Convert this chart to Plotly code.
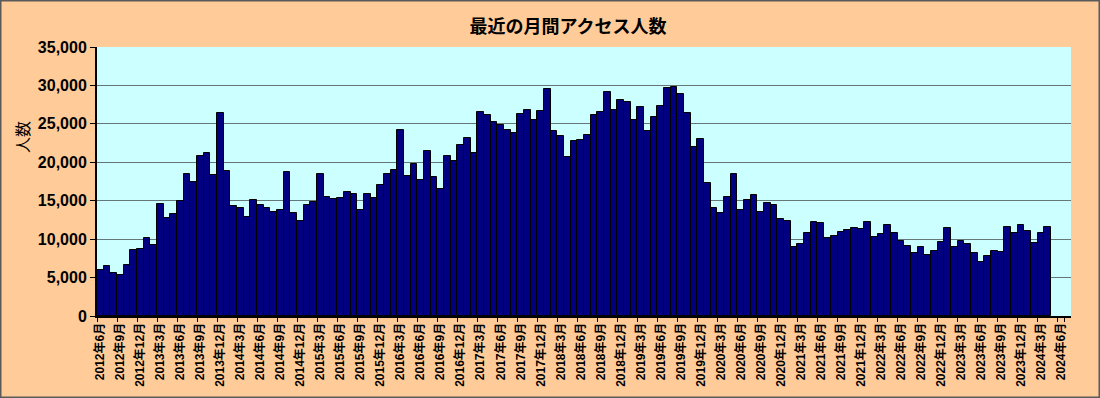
import plotly.graph_objects as go

# ---- data ----
start_year, start_month = 2012, 6
n_categories = 146  # 2012年6月 .. 2024年7月
months = []
y, m = start_year, start_month
for _ in range(n_categories):
    months.append(f"{y}年{m}月")
    m += 1
    if m > 12:
        m = 1
        y += 1

visitors = [
    5950, 6470, 5600, 5390, 6650, 8600, 8730, 10210, 9210, 14510,
    12770, 13210, 14940, 18420, 17380, 20810, 21160, 18330, 26460, 18900,
    14250, 13990, 12900, 15030, 14470, 13990, 13550, 13730, 18770, 13380,
    12380, 14420, 14770, 18420, 15510, 15250, 15290, 16120, 15860, 13810,
    15860, 15290, 17070, 18510, 19030, 24240, 18250, 19770, 17680, 21500,
    18030, 16550, 20760, 20160, 22290, 23150, 21160, 26540, 26150, 25200,
    24850, 24240, 23760, 26240, 26850, 25500, 26720, 29580, 24070, 23410,
    20720, 22720, 22940, 23590, 26200, 26540, 29150, 26850, 28110, 27800,
    25540, 27150, 24070, 25890, 27320, 29670, 29760, 28930, 26370, 22020,
    23020, 17250, 14030, 13380, 15510, 18420, 13810, 15070, 15770, 13550,
    14640, 14470, 12680, 12420, 8990, 9430, 10860, 12210, 12080, 10210,
    10430, 10900, 11160, 11470, 11290, 12250, 10340, 10640, 11900, 10820,
    9770, 9120, 8250, 9040, 7910, 8470, 9600, 11510, 8990, 9770,
    9430, 8250, 7040, 7820, 8430, 8340, 11600, 10770, 11900, 11080,
    9560, 10770, 11600,
]
values = visitors + [None] * (n_categories - len(visitors))
tick_labels = months[::3]

title_text = "最近の月間アクセス人数"
y_title = "人数"

# ---- layout geometry ----
W, H = 1100, 398
L, R, T, B = 97, 29, 47, 82
pw, ph = W - L - R, H - T - B

def px_x(px):
    return (px - L) / pw

def px_y(py):
    return (H - B - py) / ph

fig = go.Figure()
fig.add_trace(go.Bar(
    x=months, y=values,
    marker=dict(color="#000080", line=dict(color="#000000", width=1)),
    hoverinfo="x+y",
))

fig.update_layout(
    width=W, height=H,
    margin=dict(l=L, r=R, t=T, b=B, pad=0),
    paper_bgcolor="#FFCC99",
    plot_bgcolor="#CCFFFF",
    bargap=0,
    showlegend=False,
    font=dict(family="Liberation Sans, Arial, Noto Sans CJK JP", color="#000000"),
    title=dict(
        text=title_text,
        xref="container", yref="container",
        x=568 / W, y=1 - 27 / H,
        xanchor="center", yanchor="middle",
        font=dict(family="Noto Sans CJK JP", size=18, weight="bold", color="#000000"),
    ),
)

fig.update_xaxes(
    type="category",
    categoryorder="array", categoryarray=months,
    range=[-0.5, n_categories - 0.5],
    tickmode="array", tickvals=tick_labels, ticktext=tick_labels,
    tickson="boundaries",
    ticks="outside", ticklen=4, tickwidth=1, tickcolor="#000000",
    tickangle=-90,
    tickfont=dict(family="Liberation Sans, Noto Sans CJK JP", size=12, weight="bold"),
    showline=True, linecolor="#000000", linewidth=2,
    showgrid=False, zeroline=False,
    fixedrange=True,
)

fig.update_yaxes(
    range=[0, 35000], dtick=5000, tick0=0,
    tickformat=",d",
    ticks="outside", ticklen=5, tickwidth=1, tickcolor="#000000",
    tickfont=dict(family="Liberation Sans", size=16, weight="bold"),
    showline=True, linecolor="#000000", linewidth=2,
    showgrid=True, gridcolor="#667777", gridwidth=1,
    zeroline=False,
    fixedrange=True,
)

fig.add_annotation(
    text=y_title, textangle=-90,
    xref="paper", yref="paper",
    x=px_x(21.5), y=px_y(137.5),
    xanchor="center", yanchor="middle",
    showarrow=False,
    font=dict(family="Noto Sans CJK JP", size=16, color="#000000"),
)

# outer frame of the chart
fig.add_shape(
    type="rect", xref="paper", yref="paper",
    x0=px_x(0.5), x1=px_x(W - 0.5), y0=px_y(H - 0.5), y1=px_y(0.5),
    line=dict(color="#5a5a5a", width=2), fillcolor="rgba(0,0,0,0)",
    layer="above",
)

fig.write_html(
    "out.html",
    config={"displayModeBar": False, "staticPlot": False},
    post_script="document.body.style.margin='0';document.body.style.overflow='hidden';",
)
